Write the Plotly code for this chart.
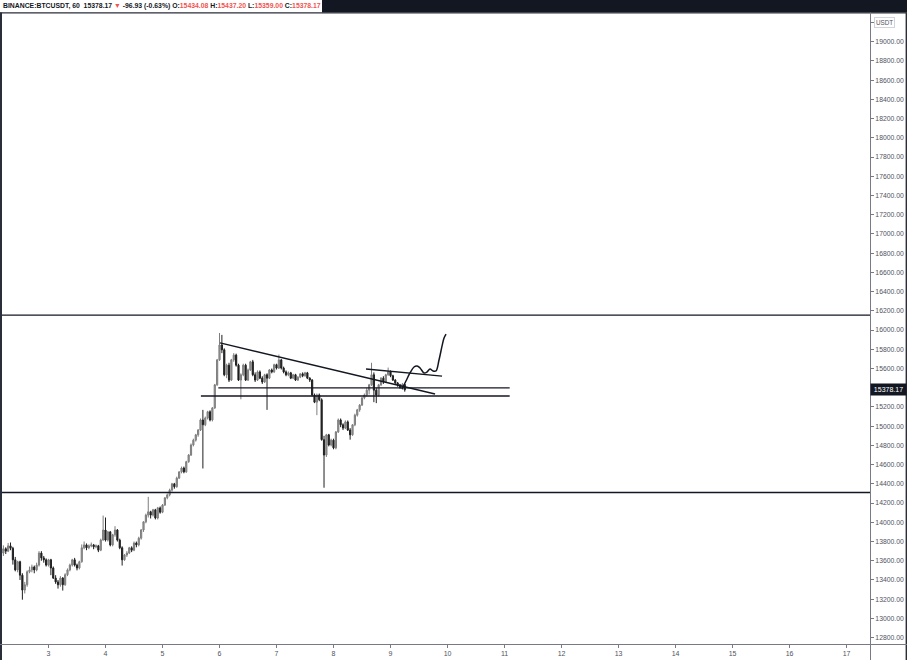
import plotly.graph_objects as go
import pandas as pd

# ---------------- data (BTCUSDT, 1h candles) ----------------
start_time = "2020-11-02 05:00"
opens = [13680,13725,13700,13755,13730,13610,13505,13590,13450,13295,
         13350,13485,13505,13535,13505,13555,13680,13630,13610,13555,
         13610,13525,13420,13380,13350,13420,13350,13455,13505,13555,
         13610,13555,13525,13590,13735,13765,13735,13755,13765,13745,
         13755,13710,13815,13920,13815,13900,13765,13870,13920,13815,
         13735,13610,13660,13680,13735,13710,13785,13765,13835,13920,
         14005,14075,14110,14075,14130,14045,14150,14105,14180,14255,
         14285,14335,14400,14370,14460,14525,14565,14525,14630,14700,
         14805,14855,14910,14960,15065,15015,15085,15150,15065,15190,
         15430,15690,15845,15795,15535,15635,15480,15690,15740,15635,
         15480,15535,15635,15480,15585,15670,15535,15480,15565,15500,
         15460,15535,15500,15585,15565,15640,15605,15690,15605,15565,
         15535,15555,15500,15535,15480,15510,15545,15525,15555,15500,
         15480,15325,15250,15325,15275,14860,14700,14910,14805,14855,
         14775,14940,15065,15015,14980,15045,14960,14910,15015,15115,
         15170,15220,15295,15325,15375,15430,15535,15375,15325,15430,
         15500,15460,15535,15565,15525,15480,15450,15430,15400,15434.08]
highs = [13760,13740,13785,13790,13745,13640,13600,13600,13470,13380,
         13500,13540,13560,13550,13580,13700,13700,13650,13625,13620,
         13620,13540,13450,13400,13440,13430,13470,13520,13570,13620,
         13630,13570,13600,13770,13800,13780,13770,13790,13775,13770,
         13765,13830,14070,14050,13910,13910,13880,13960,13930,13830,
         13750,13670,13700,13745,13750,13800,13800,13850,13930,14010,
         14090,14265,14120,14140,14140,14160,14165,14190,14260,14300,
         14350,14410,14410,14475,14530,14580,14580,14640,14710,14820,
         14870,14920,14970,15080,15170,15100,15160,15165,15200,15440,
         15700,15970,15950,15810,15650,15660,15700,15760,15755,15650,
         15550,15650,15650,15600,15680,15690,15560,15580,15580,15520,
         15545,15550,15595,15600,15650,15650,15745,15700,15620,15580,
         15570,15565,15545,15545,15520,15550,15560,15565,15565,15510,
         15490,15340,15340,15340,15290,14900,14920,14920,14870,14870,
         14950,15080,15080,15030,15060,15060,14980,15020,15130,15180,
         15230,15300,15340,15400,15440,15660,15560,15400,15440,15510,
         15520,15545,15610,15580,15535,15490,15460,15440,15450,15437.20]
lows = [13650,13670,13690,13710,13560,13490,13480,13400,13195,13260,
        13330,13470,13480,13470,13490,13540,13600,13580,13540,13540,
        13450,13410,13360,13310,13330,13290,13340,13440,13490,13540,
        13540,13500,13510,13580,13720,13710,13720,13740,13720,13730,
        13690,13700,13810,13800,13800,13750,13750,13850,13800,13720,
        13550,13600,13640,13670,13690,13700,13740,13750,13820,13900,
        13990,14050,14040,14060,14030,14030,14090,14095,14170,14240,
        14270,14320,14350,14360,14450,14510,14510,14515,14620,14690,
        14790,14840,14890,14950,14560,15000,15070,15050,15050,15180,
        15420,15680,15760,15520,15500,15460,15470,15670,15620,15470,
        15280,15520,15470,15470,15575,15520,15460,15470,15490,15440,
        15450,15170,15490,15550,15555,15590,15595,15590,15550,15520,
        15520,15490,15490,15470,15470,15500,15510,15515,15490,15460,
        15310,15240,15115,15260,14850,14360,14680,14790,14790,14760,
        14760,14930,14990,14960,14970,14950,14860,14900,15000,15100,
        15150,15210,15280,15310,15330,15420,15250,15240,15310,15420,
        15440,15450,15525,15510,15470,15440,15410,15390,15380,15359.00]
closes = [13725,13700,13755,13730,13610,13505,13590,13450,13295,13350,
          13485,13505,13535,13505,13555,13680,13630,13610,13555,13610,
          13525,13420,13380,13350,13420,13350,13455,13505,13555,13610,
          13555,13525,13590,13735,13765,13735,13755,13765,13745,13755,
          13710,13815,13920,13815,13900,13765,13870,13920,13815,13735,
          13610,13660,13680,13735,13710,13785,13765,13835,13920,14005,
          14075,14110,14075,14130,14045,14150,14105,14180,14255,14285,
          14335,14400,14370,14460,14525,14565,14525,14630,14700,14805,
          14855,14910,14960,15065,15015,15085,15150,15065,15190,15430,
          15690,15845,15795,15535,15635,15480,15690,15740,15635,15480,
          15535,15635,15480,15585,15670,15535,15480,15565,15500,15460,
          15535,15500,15585,15565,15640,15605,15690,15605,15565,15535,
          15555,15500,15535,15480,15510,15545,15525,15555,15500,15480,
          15325,15250,15325,15275,14860,14700,14910,14805,14855,14775,
          14940,15065,15015,14980,15045,14960,14910,15015,15115,15170,
          15220,15295,15325,15375,15430,15535,15375,15325,15430,15500,
          15460,15535,15565,15525,15480,15450,15430,15400,15434.08,15378.17]

# drawn levels / trendlines
level_prices = [16155, 14310]
zone_top = {"x": ["2020-11-05 23:30", "2020-11-11 02:10"], "y": [15398, 15398]}
zone_bottom = {"x": ["2020-11-05 16:10", "2020-11-11 02:10"], "y": [15314, 15314]}
trend_x = ["2020-11-06 00:13", "2020-11-09 18:45"]
trend_y = [15866, 15335]
flag_x = ["2020-11-08 13:41", "2020-11-09 21:42"]
flag_y = [15595, 15522]
proj_x = ["2020-11-09 04:50", "2020-11-09 06:30", "2020-11-09 08:12", "2020-11-09 09:53",
          "2020-11-09 11:10", "2020-11-09 12:26", "2020-11-09 14:07", "2020-11-09 15:22",
          "2020-11-09 16:38", "2020-11-09 17:54", "2020-11-09 19:09", "2020-11-09 20:25",
          "2020-11-09 21:42", "2020-11-09 22:32", "2020-11-09 23:23"]
proj_y = [15387, 15470, 15554, 15616, 15626, 15606, 15554, 15564, 15595, 15575,
          15575, 15689, 15835, 15918, 15959]

day_ticks = list(range(3, 18))
price_ticks = list(range(12800, 19201, 200))
hidden_price_ticks = [15400, 19200]   # covered by the last-price tag and the USDT badge
last_price = 15378.17

times = pd.date_range(start_time, periods=len(closes), freq="h")

ink = "#131722"
fig = go.Figure()
fig.add_trace(go.Candlestick(
    x=times, open=opens, high=highs, low=lows, close=closes,
    increasing=dict(line=dict(color="#7d7d7d", width=1), fillcolor="#9a9a9a"),
    decreasing=dict(line=dict(color="#1f1f1f", width=1), fillcolor="#1f1f1f"),
    whiskerwidth=0, showlegend=False, hoverinfo="skip"))

line_style = dict(color=ink, width=1.3)
for d in (zone_top, zone_bottom):
    fig.add_trace(go.Scatter(x=d["x"], y=d["y"], mode="lines", line=line_style,
                             showlegend=False, hoverinfo="skip"))
fig.add_trace(go.Scatter(x=trend_x, y=trend_y, mode="lines", line=line_style,
                         showlegend=False, hoverinfo="skip"))
fig.add_trace(go.Scatter(x=flag_x, y=flag_y, mode="lines", line=line_style,
                         showlegend=False, hoverinfo="skip"))
fig.add_trace(go.Scatter(x=proj_x, y=proj_y, mode="lines",
                         line=dict(color=ink, width=1.5, shape="spline"),
                         showlegend=False, hoverinfo="skip"))

shapes = []
for lv in level_prices:
    shapes.append(dict(type="line", xref="paper", yref="y", x0=0, x1=1, y0=lv, y1=lv,
                       line=dict(color=ink, width=1.3)))

# frame pieces (paper coords: plot spans x 2..870px, y 13..644px)
W, H = 868.0, 631.0
def px(xp):
    return (xp - 2) / W
def py(yp):
    return (644 - yp) / H

shapes += [
    # header dark band
    dict(type="rect", xref="paper", yref="paper", x0=px(322), x1=px(908), y0=py(12.5), y1=py(-1),
         fillcolor="#131722", line=dict(width=0), layer="above"),
    # top border
    dict(type="line", xref="paper", yref="paper", x0=px(-1), x1=px(908), y0=py(12.8), y1=py(12.8),
         line=dict(color="#2a2e39", width=1.2), layer="above"),
    # left border
    dict(type="line", xref="paper", yref="paper", x0=px(1), x1=px(1), y0=py(661), y1=py(12.5),
         line=dict(color="#2a2e39", width=2), layer="above"),
    # right border
    dict(type="line", xref="paper", yref="paper", x0=px(906.3), x1=px(906.3), y0=py(661), y1=py(12.5),
         line=dict(color="#2a2e39", width=1.4), layer="above"),
    # price-scale separator
    dict(type="line", xref="paper", yref="paper", x0=px(870.5), x1=px(870.5), y0=py(661), y1=py(12.5),
         line=dict(color="#787b86", width=1), layer="above"),
    # time-scale separator
    dict(type="line", xref="paper", yref="paper", x0=px(-1), x1=px(908), y0=py(644.5), y1=py(644.5),
         line=dict(color="#787b86", width=1), layer="above"),
]

red = "#ef5350"
legend_text = (f"<b><span style='color:{ink}'>BINANCE:BTCUSDT, 60  15378.17 </span>"
               f"<span style='color:{red}'>▼</span>"
               f"<span style='color:{ink}'> -96.93 (-0.63%) O:</span><span style='color:{red}'>15434.08</span>"
               f"<span style='color:{ink}'> H:</span><span style='color:{red}'>15437.20</span>"
               f"<span style='color:{ink}'> L:</span><span style='color:{red}'>15359.00</span>"
               f"<span style='color:{ink}'> C:</span><span style='color:{red}'>15378.17</span></b>")

annotations = [
    dict(xref="paper", yref="paper", x=px(1), y=py(0.5), xanchor="left", yanchor="top",
         text=legend_text, showarrow=False, font=dict(family="Liberation Sans", size=6.85),
         align="left"),
    dict(xref="paper", yref="y", x=1.0, y=last_price, xanchor="left", yanchor="middle",
         text=f"{last_price:.2f}", showarrow=False, bgcolor="#131722",
         font=dict(family="Liberation Sans", size=7, color="white"), width=35, height=11,
         borderpad=0),
    dict(xref="paper", yref="y", x=px(884), y=19200, xanchor="center", yanchor="middle",
         text="USDT", showarrow=False, bgcolor="white", bordercolor="#d1d4dc", borderwidth=1,
         font=dict(family="Liberation Sans", size=6.3, color="#50535e"), borderpad=1),
]

tick_dates = [pd.Timestamp(2020, 11, d) for d in day_ticks]
price_text = ["" if v in hidden_price_ticks else f"{v:.2f}" for v in price_ticks]
fig.update_layout(
    width=907, height=660,
    margin=dict(l=2, r=37, t=13, b=16),
    paper_bgcolor="white", plot_bgcolor="white",
    shapes=shapes, annotations=annotations,
    xaxis=dict(type="date", range=["2020-11-02 04:25", "2020-11-17 09:53"],
               tickvals=tick_dates, ticktext=[str(d) for d in day_ticks],
               showgrid=False, zeroline=False, rangeslider=dict(visible=False),
               ticks="outside", ticklen=3, tickcolor="#787b86",
               tickfont=dict(family="Liberation Sans", size=7, color="#50535e"),
               showline=False, fixedrange=True),
    yaxis=dict(side="right", range=[12734, 19299],
               tickvals=price_ticks, ticktext=price_text,
               showgrid=False, zeroline=False,
               ticks="outside", ticklen=3, tickcolor="#787b86",
               tickfont=dict(family="Liberation Sans", size=6.8, color="#50535e"),
               showline=False, fixedrange=True),
)

fig.write_html("out.html")
